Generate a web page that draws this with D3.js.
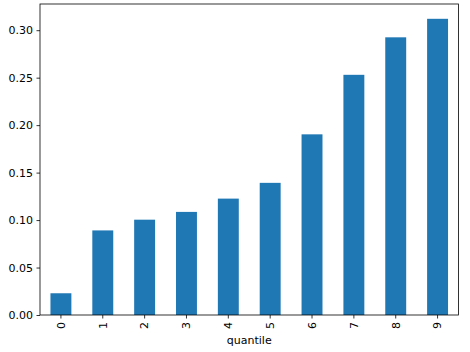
<!DOCTYPE html>
<html>
<head>
  <script src="https://cdn.jsdelivr.net/npm/d3@7"></script>
  <style>
    body { margin: 0; background: white; }
    svg { display: block; font-family: "DejaVu Sans", sans-serif; }
  </style>
</head>
<body>
  <script>
    const quantiles = ['0', '1', '2', '3', '4', '5', '6', '7', '8', '9']
    const values = [0.0229, 0.0891, 0.1004, 0.1086, 0.1226, 0.1392, 0.1903, 0.2530, 0.2925, 0.3120]
    const yTicks = [0, 0.05, 0.10, 0.15, 0.20, 0.25, 0.30]

    const W = 470, H = 352
    const mLeft = 40, mRight = 458.5, mTop = 4, mBottom = 315

    const svg = d3.select('body').append('svg')
      .attr('width', W).attr('height', H)

    const x = d3.scaleBand().domain(quantiles).range([mLeft, mRight]).paddingInner(0.5).paddingOuter(0.25)
    const y = d3.scaleLinear().domain([0, d3.max(values) * 1.05]).range([mBottom, mTop])

    svg.append('g').selectAll('rect')
      .data(values)
      .join('rect')
      .attr('x', (d, i) => x(quantiles[i]))
      .attr('width', x.bandwidth())
      .attr('y', d => y(d))
      .attr('height', d => mBottom - y(d))
      .attr('fill', '#1f77b4')

    const yAxis = svg.append('g')
      .attr('transform', `translate(${mLeft},0)`)
      .call(d3.axisLeft(y).tickValues(yTicks).tickFormat(d3.format('.2f')).tickSize(3.5).tickPadding(3.5))
    const xAxis = svg.append('g')
      .attr('transform', `translate(0,${mBottom})`)
      .call(d3.axisBottom(x).tickSize(3.5).tickPadding(3.5))

    for (const ax of [yAxis, xAxis]) {
      ax.select('.domain').remove()
      ax.selectAll('line').attr('stroke', '#000').attr('stroke-width', 0.8)
      ax.selectAll('text').attr('fill', '#000').attr('font-size', 11).attr('font-family', 'DejaVu Sans')
    }
    xAxis.selectAll('text')
      .attr('transform', 'rotate(-90)')
      .attr('text-anchor', 'end')
      .attr('x', -7)
      .attr('y', 0)
      .attr('dy', '0.35em')

    svg.append('rect')
      .attr('x', mLeft).attr('y', mTop)
      .attr('width', mRight - mLeft).attr('height', mBottom - mTop)
      .attr('fill', 'none').attr('stroke', '#000').attr('stroke-width', 0.8)

    svg.append('text')
      .attr('x', (mLeft + mRight) / 2).attr('y', 344)
      .attr('text-anchor', 'middle')
      .attr('font-size', 11)
      .text('quantile')
  </script>
</body>
</html>
